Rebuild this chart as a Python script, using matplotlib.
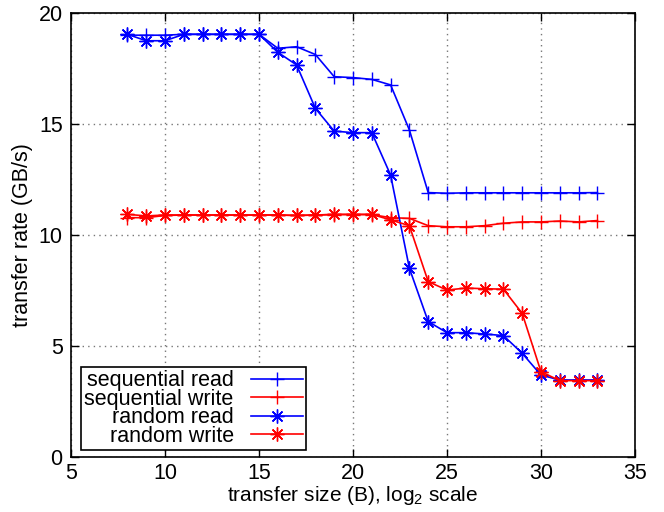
import numpy as np
import matplotlib
matplotlib.use("Agg")
import matplotlib.pyplot as plt

plt.rcParams['font.family'] = ['Liberation Sans', 'DejaVu Sans']
plt.rcParams['mathtext.fontset'] = 'custom'
plt.rcParams['mathtext.rm'] = 'Liberation Sans'
plt.rcParams['mathtext.it'] = 'Liberation Sans'

# transfer size, log2 of bytes
sizes = list(range(8, 34))

seq_read = [19.0, 19.0, 19.0, 19.04, 19.04, 19.04, 19.04, 19.04, 18.41, 18.48,
            18.13, 17.13, 17.09, 17.01, 16.76, 14.73, 11.91, 11.88, 11.9, 11.9,
            11.9, 11.9, 11.9, 11.9, 11.9, 11.91]
seq_write = [10.78, 10.78, 10.88, 10.9, 10.9, 10.9, 10.9, 10.9, 10.9, 10.88,
             10.9, 10.92, 10.92, 10.92, 10.78, 10.75, 10.42, 10.37, 10.37, 10.42,
             10.53, 10.59, 10.59, 10.63, 10.59, 10.65]
rand_read = [19.04, 18.75, 18.75, 19.04, 19.04, 19.04, 19.04, 19.04, 18.23, 17.66,
             15.7, 14.68, 14.61, 14.61, 12.7, 8.5, 6.1, 5.6, 5.6, 5.54,
             5.47, 4.67, 3.69, 3.47, 3.47, 3.47]
rand_write = [10.93, 10.86, 10.9, 10.9, 10.9, 10.9, 10.9, 10.9, 10.9, 10.88,
              10.9, 10.93, 10.93, 10.93, 10.68, 10.42, 7.9, 7.52, 7.61, 7.58,
              7.56, 6.47, 3.84, 3.44, 3.44, 3.44]

fig = plt.figure(figsize=(6.64, 5.12), dpi=100)
ax = fig.add_axes([71/664, 55/512, 564/664, 444/512])

star = (8, 2, 0)
ax.plot(sizes, seq_read, color="#0000ff", lw=1.2, marker="+", ms=10, mew=1.0,
        label="sequential read")
ax.plot(sizes, seq_write, color="#ff0000", lw=1.2, marker="+", ms=10, mew=1.0,
        label="sequential write")
ax.plot(sizes, rand_read, color="#0000ff", lw=1.2, marker=star, ms=10, mew=1.0,
        label="random read")
ax.plot(sizes, rand_write, color="#ff0000", lw=1.2, marker=star, ms=10, mew=1.0,
        label="random write")

ax.set_xlim(5, 35)
ax.set_ylim(0, 20)
ax.set_xticks(range(5, 36, 5))
ax.set_yticks(range(0, 21, 5))
ax.tick_params(direction="in", length=6, width=1, top=True, right=True,
               labelsize=15.5)
ax.tick_params(axis="x", pad=4)
ax.tick_params(axis="y", pad=6)
ax.grid(True, linestyle=(0, (1, 3)), color="#777777", lw=1)
for s in ax.spines.values():
    s.set_linewidth(1.2)

ax.set_xlabel("transfer size (B), log$_2$ scale", fontsize=15)
ax.xaxis.set_label_coords(0.5, -0.1)
ax.xaxis.label.set_va("baseline")
ax.set_ylabel("transfer rate (GB/s)", fontsize=15.5, labelpad=4)

leg = ax.legend(loc="lower left", bbox_to_anchor=(0.018, 0.016), fontsize=15.5,
                markerfirst=False, labelspacing=-0.12, handlelength=2.4,
                handletextpad=0.8, borderpad=0.15, borderaxespad=0,
                fancybox=False, framealpha=1, edgecolor="black")
leg.get_frame().set_linewidth(1.2)

fig.savefig("out.png", dpi=100)
